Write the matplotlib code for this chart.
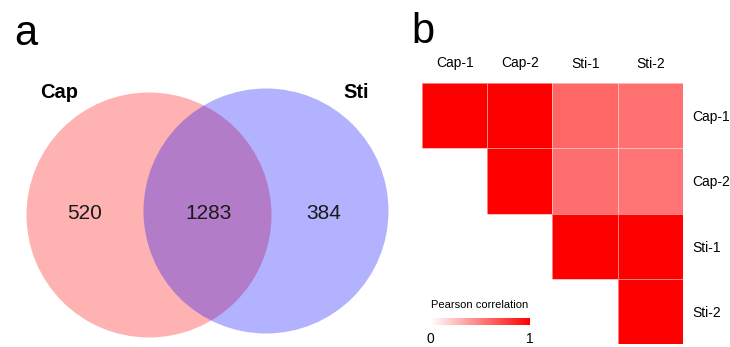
import numpy as np
import matplotlib
matplotlib.use("Agg")
import matplotlib.pyplot as plt
from matplotlib.patches import Circle
from matplotlib.colors import LinearSegmentedColormap

plt.rcParams['font.family'] = ['Liberation Sans', 'DejaVu Sans']

# ---- data ----
set_names = ["Cap", "Sti"]
venn_counts = [520, 1283, 384]  # Cap only, both, Sti only
samples = ["Cap-1", "Cap-2", "Sti-1", "Sti-2"]
corr = np.array([
    [1.00, 1.00, 0.60, 0.56],
    [1.00, 1.00, 0.57, 0.54],
    [0.60, 0.57, 1.00, 1.00],
    [0.56, 0.54, 1.00, 1.00],
])
cbar_ticks = [0, 1]

W, H = 730, 347
fig = plt.figure(figsize=(W / 100, H / 100), dpi=100)

# ---- panel a: Venn (pixel coordinates) ----
ax = fig.add_axes([0, 0, 1, 1])
ax.set_xlim(0, W)
ax.set_ylim(H, 0)
ax.axis('off')
ax.add_patch(Circle((149, 215), 122.5, facecolor='red', alpha=0.3, edgecolor='none'))
ax.add_patch(Circle((266, 211), 122.5, facecolor='blue', alpha=0.3, edgecolor='none'))
ax.text(85, 213, str(venn_counts[0]), fontsize=15, ha='center', va='center', color='#1a1a1a')
ax.text(209, 213, str(venn_counts[1]), fontsize=15, ha='center', va='center', color='#1a1a1a')
ax.text(324, 213, str(venn_counts[2]), fontsize=15, ha='center', va='center', color='#1a1a1a')
ax.text(59, 92, set_names[0], fontsize=14.5, fontweight='bold', ha='center', va='center')
ax.text(356, 92, set_names[1], fontsize=14.5, fontweight='bold', ha='center', va='center')
ax.text(14, 45, "a", fontsize=30, ha='left', va='baseline')
ax.text(411, 43, "b", fontsize=30, ha='left', va='baseline')

# ---- panel b: heatmap ----
cmap = LinearSegmentedColormap.from_list("wr", ["#ffffff", "#ff0000"])
x0, x1, y0, y1 = 422, 683, 83, 344
hax = fig.add_axes([x0 / W, (H - y1) / H, (x1 - x0) / W, (y1 - y0) / H])
n = len(samples)
mask = np.tril(np.ones((n, n), dtype=bool), k=-1)
data = np.ma.masked_array(corr, mask=mask)
hax.pcolormesh(np.arange(n + 1), np.arange(n + 1), data, cmap=cmap, vmin=0, vmax=1,
               edgecolors=(1, 1, 1, 0.5), linewidth=0.6)
hax.set_xlim(0, n)
hax.set_ylim(n, 0)
hax.set_xticks(np.arange(n) + 0.5)
hax.set_yticks(np.arange(n) + 0.5)
hax.set_xticklabels(samples, fontsize=10)
hax.set_yticklabels(samples, fontsize=10)
hax.xaxis.tick_top()
hax.yaxis.tick_right()
hax.tick_params(length=0, pad=9)
hax.tick_params(axis='y', pad=7)
for s in hax.spines.values():
    s.set_visible(False)

# ---- colorbar ----
cx0, cx1, cy0, cy1 = 430, 530, 318, 325
cax = fig.add_axes([cx0 / W, (H - cy1) / H, (cx1 - cx0) / W, (cy1 - cy0) / H])
sm = plt.cm.ScalarMappable(cmap=cmap, norm=plt.Normalize(0, 1))
cb = fig.colorbar(sm, cax=cax, orientation='horizontal', ticks=cbar_ticks)
cb.outline.set_visible(False)
cax.tick_params(length=0, labelsize=10, pad=5)
cax.set_xticklabels([str(t) for t in cbar_ticks])
cax.set_title("Pearson correlation", fontsize=8, pad=7)

fig.savefig("out.png", dpi=100)
